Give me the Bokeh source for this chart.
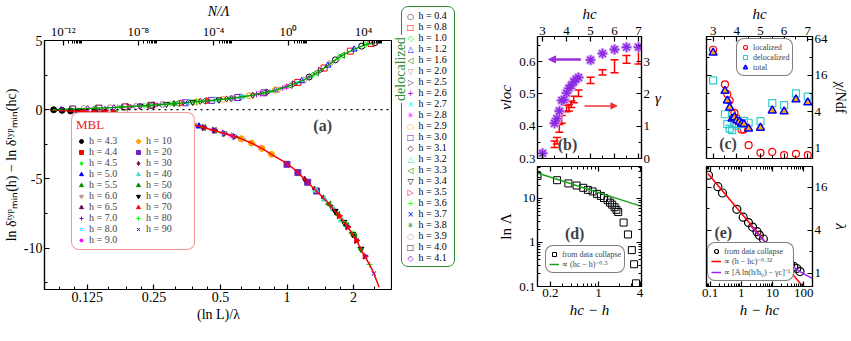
import math
from bokeh.plotting import figure
from bokeh.layouts import row, column
from bokeh.models import (Range1d, LogScale, LogAxis, LinearAxis, FixedTicker,
                          CustomJSTickFormatter, Legend, LegendItem, Label, Span,
                          Arrow, NormalHead, Whisker, TeeHead, ColumnDataSource, Div)
from bokeh.embed import file_html
from bokeh.resources import INLINE

# ======================= DATA =======================
# ---- panel (a): MBL side, x = (ln L)/lambda ----
mbl_labels = ["h = 4.3", "h = 4.4", "h = 4.5", "h = 5.0", "h = 5.5", "h = 6.0", "h = 6.5",
              "h = 7.0", "h = 8.0", "h = 9.0", "h = 10", "h = 20", "h = 30", "h = 40",
              "h = 50", "h = 60", "h = 70", "h = 80", "h = 90"]
mbl_x = [[0.088, 0.096, 0.105, 0.114], [0.12, 0.135, 0.15, 0.165], [0.17, 0.19, 0.21, 0.235],
         [0.25, 0.28, 0.31, 0.35, 0.40], [0.33, 0.37, 0.42, 0.47], [0.38, 0.42, 0.47, 0.52],
         [0.42, 0.47, 0.52, 0.58], [0.46, 0.51, 0.57, 0.63], [0.52, 0.58, 0.64, 0.71],
         [0.56, 0.62, 0.69, 0.76], [0.62, 0.69, 0.77, 0.85], [1.0, 1.12, 1.24, 1.36],
         [1.20, 1.33, 1.46, 1.60], [1.35, 1.48, 1.62, 1.76], [1.55, 1.70, 1.86, 2.03],
         [1.65, 1.81, 1.98, 2.16], [1.72, 1.88, 2.06, 2.25], [1.80, 1.97, 2.16, 2.36],
         [1.88, 2.06, 2.26, 2.47]]
mbl_y = [[-0.01, -0.05, -0.09, -0.12], [-0.15, -0.19, -0.23, -0.28], [-0.29, -0.35, -0.41, -0.5],
         [-0.56, -0.68, -0.81, -0.98, -1.2], [-0.9, -1.07, -1.29, -1.5], [-1.11, -1.29, -1.5, -1.72],
         [-1.29, -1.5, -1.72, -1.95], [-1.47, -1.68, -1.91, -2.14], [-1.72, -1.95, -2.19, -2.51],
         [-1.87, -2.10, -2.41, -2.75], [-2.10, -2.41, -2.80, -3.23], [-3.95, -4.55, -5.25, -5.88],
         [-5.02, -5.74, -6.38, -7.08], [-5.83, -6.48, -7.18, -7.98], [-6.83, -7.58, -8.38, -9.17],
         [-7.33, -8.13, -8.99, -10.07], [-7.68, -8.48, -9.46, -10.59], [-8.08, -8.94, -10.07, -11.19],
         [-8.48, -9.46, -10.64, -11.85]]
mbl_curve_x = [0.085, 0.1, 0.1166, 0.14, 0.165, 0.2, 0.234, 0.28, 0.33, 0.4, 0.468, 0.54, 0.618,
               0.698, 0.78, 0.86, 0.96, 1.06, 1.18, 1.3, 1.4, 1.5, 1.6, 1.72, 1.85, 1.98, 2.1,
               2.2, 2.32, 2.44, 2.52, 2.61]
mbl_curve_y = [0.0, -0.07, -0.13, -0.2, -0.28, -0.38, -0.5, -0.68, -0.9, -1.2, -1.5, -1.8, -2.09,
               -2.45, -2.85, -3.29, -3.72, -4.2, -4.9, -5.59, -6.08, -6.58, -7.08, -7.68, -8.33,
               -8.99, -9.7, -10.31, -10.98, -11.63, -12.2, -12.83]

# ---- panel (a): delocalized side, x = N/Lambda (top axis), stored as log10 ----
deloc_labels = ["h = 0.4", "h = 0.8", "h = 1.0", "h = 1.2", "h = 1.6", "h = 2.0", "h = 2.5",
                "h = 2.6", "h = 2.7", "h = 2.8", "h = 2.9", "h = 3.0", "h = 3.1", "h = 3.2",
                "h = 3.3", "h = 3.4", "h = 3.5", "h = 3.6", "h = 3.7", "h = 3.8", "h = 3.9",
                "h = 4.0", "h = 4.1"]
deloc_log10x = [[1.1, 2.5, 3.9, 4.6], [0.5, 1.9, 3.3, 4.4], [-0.1, 1.3, 2.7, 4.1],
                [-0.7, 0.7, 2.1, 3.5], [-1.3, 0.1, 1.5, 2.9], [-1.9, -0.5, 0.9, 2.3],
                [-2.5, -1.1, 0.3, 1.7], [-3.1, -1.7, -0.3, 1.1], [-3.7, -2.3, -0.9, 0.5],
                [-4.3, -2.9, -1.5, -0.1], [-4.9, -3.5, -2.1, -0.7], [-5.5, -4.1, -2.7, -1.3],
                [-6.1, -4.7, -3.3, -1.9], [-6.7, -5.3, -3.9, -2.5], [-7.3, -5.9, -4.5, -3.1],
                [-7.9, -6.5, -5.1, -3.7], [-8.5, -7.1, -5.7, -4.3], [-9.1, -7.7, -6.3, -4.9],
                [-9.7, -8.3, -6.9, -5.5], [-10.3, -8.9, -7.5, -6.1], [-10.9, -9.5, -8.1, -6.7],
                [-11.5, -10.1, -8.7, -7.3], [-12.1, -10.7, -9.3, -7.9]]
deloc_y = [[2.36, 3.60, 4.59, 4.84], [1.97, 3.01, 4.23, 4.78], [1.66, 2.50, 3.80, 4.70],
           [1.41, 2.07, 3.20, 4.36], [1.22, 1.75, 2.67, 3.94], [1.05, 1.49, 2.21, 3.40],
           [0.92, 1.28, 1.86, 2.84], [0.81, 1.11, 1.57, 2.36], [0.72, 0.97, 1.34, 1.97],
           [0.65, 0.84, 1.16, 1.66], [0.57, 0.75, 1.01, 1.41], [0.50, 0.67, 0.88, 1.22],
           [0.44, 0.60, 0.78, 1.05], [0.38, 0.53, 0.69, 0.92], [0.32, 0.46, 0.62, 0.81],
           [0.27, 0.40, 0.55, 0.72], [0.22, 0.34, 0.48, 0.65], [0.17, 0.28, 0.42, 0.57],
           [0.13, 0.23, 0.36, 0.50], [0.10, 0.18, 0.30, 0.44], [0.075, 0.14, 0.25, 0.38],
           [0.048, 0.11, 0.20, 0.32], [0.022, 0.084, 0.15, 0.27]]
deloc_curve_log10x = [-12.6, -11, -9.3, -7.5, -5.7, -4.0, -3.0, -1.9, -0.85, 0.0, 0.75, 1.3,
                      2.0, 2.7, 3.4, 4.1, 4.64]
deloc_curve_y = [0.0, 0.07, 0.15, 0.3, 0.48, 0.68, 0.82, 1.05, 1.35, 1.7, 2.1, 2.5, 3.1, 3.8,
                 4.3, 4.7, 4.85]

# ---- panel (b) ----
b_hc_nu = [3.0, 3.5, 3.6, 3.7, 3.8, 3.9, 4.0, 4.1, 4.2, 4.3, 4.4, 4.5, 5.0, 5.5, 6.0, 6.5, 7.0]
b_nu = [0.316, 0.409, 0.423, 0.447, 0.480, 0.482, 0.503, 0.518, 0.526, 0.538, 0.546, 0.551,
        0.605, 0.625, 0.638, 0.645, 0.645]
b_hc_gamma = [3.5, 3.6, 3.7, 3.8, 4.0, 4.1, 4.2, 4.3, 4.5, 5.0, 5.5, 6.0, 6.5, 7.0]
b_gamma = [0.44, 0.55, 0.93, 1.21, 1.55, 1.57, 1.68, 1.83, 2.02, 2.42, 2.67, 2.86, 3.07, 3.23]
b_gamma_err = [0.1, 0.1, 0.12, 0.12, 0.1, 0.1, 0.1, 0.1, 0.1, 0.1, 0.08, 0.2, 0.12, 0.3]

# ---- panel (c) ----
c_hc = [3.0, 3.5, 3.6, 3.7, 3.8, 3.9, 4.0, 4.1, 4.2, 4.3, 4.5, 5.0, 5.5, 6.0, 6.5, 7.0]
c_localized = [42.7, 11.3, 7.8, 6.1, 3.7, 3.8, 3.1, 2.7, 2.0, 2.0, 1.1, 0.82, 0.85, 0.75, 0.79, 0.75]
c_delocalized = [13.2, 3.6, 2.46, 2.07, 1.96, 2.46, 2.3, 2.5, 2.5, 2.8, 2.6, 2.77, 5.5, 5.1, 8.0, 7.1]
c_total = [38.0, 8.8, 6.06, 4.65, 3.03, 3.2, 2.83, 2.7, 2.5, 2.46, 2.07, 2.14, 4.14, 4.0, 6.35, 5.66]

# ---- panel (d) ----
d_x = [0.13, 0.25, 0.365, 0.48, 0.6, 0.7, 0.82, 0.95, 1.08, 1.2, 1.35, 1.47, 1.58, 1.71, 1.82,
       1.93, 2.31, 2.67, 3.04, 3.28, 3.5]
d_lnLambda = [32.3, 25.9, 21.9, 19.6, 17.4, 15.6, 14.4, 12.7, 11.4, 10.2, 9.1, 8.0, 7.2, 6.3,
              5.5, 4.9, 2.83, 1.52, 0.67, 0.32, 0.118]
d_fit_x = [0.13, 4.2]
d_fit_y = [37.7, 6.6]

# ---- panel (e) ----
e_x = [0.089, 0.178, 0.25, 0.72, 1.15, 1.7, 2.3, 3.2, 3.8, 5.1, 12.9, 22, 29.6, 38, 48, 60, 76]
e_lambda = [23.4, 16.2, 13.2, 7.8, 6.06, 5.1, 4.4, 3.8, 3.4, 3.0, 1.78, 1.5, 1.4, 1.3, 1.24,
            1.16, 1.05]
e_pow_x = [0.085, 100]
e_pow_y = [24.8, 0.63]
e_log_x = [2.0, 3.0, 5.0, 10, 20, 40, 80, 180]
e_log_y = [4.6, 3.7, 2.9, 2.05, 1.6, 1.28, 1.03, 0.85]

# ======================= STYLE =======================
FONT = "Liberation Serif"
BLACK, RED, GREEN, BLUE = "#000000", "#ff0000", "#00ff00", "#0000ff"
GREEN4, BROWN, MAROON, VIOLET = "#008b00", "#bc8f8f", "#670748", "#9400d3"
CYAN, MAGENTA, ORANGE, INDIGO, TURQ = "#00ffff", "#ff00ff", "#ffa500", "#7221bc", "#40e0d0"
COLORS = [BLACK, RED, GREEN, BLUE, GREEN4, BROWN, MAROON, VIOLET, CYAN, MAGENTA, ORANGE,
          INDIGO, MAROON, TURQ, GREEN4, BLACK, RED, GREEN, BLUE, GREEN4, BROWN, MAROON, VIOLET]
MARKERS = [("circle", 0), ("square", 0), ("diamond", 0), ("triangle", 0),
           ("triangle", math.pi / 2), ("inverted_triangle", 0), ("triangle", -math.pi / 2),
           ("cross", 0), ("x", 0), ("asterisk", 0)]
KEY_SYMBOLS = ["○", "□", "◇", "△", "◁", "▽", "▷", "+", "×", "✳"]
LINE_MARKERS = {"cross", "x", "asterisk"}
DGREEN = "#2e8b2e"

NUM = CustomJSTickFormatter(code="return String(parseFloat(tick.toPrecision(6)));")
HIDE = CustomJSTickFormatter(code="return '';")
POW = CustomJSTickFormatter(code="""
const sup = {'-':'\u207b','0':'\u2070','1':'\u00b9','2':'\u00b2','3':'\u00b3','4':'\u2074',
             '5':'\u2075','6':'\u2076','7':'\u2077','8':'\u2078','9':'\u2079'};
const e = Math.round(Math.log10(tick));
return '10' + String(e).split('').map(c => sup[c]).join('');
""")


def style_axis(ax, label_size="13px", axis_label_size="15px", italic=True):
    ax.major_label_text_font = FONT
    ax.major_label_text_font_size = label_size
    ax.major_label_text_color = "black"
    ax.axis_label_text_font = FONT
    ax.axis_label_text_font_size = axis_label_size
    ax.axis_label_text_font_style = "italic" if italic else "normal"
    ax.axis_label_text_color = "black"
    ax.major_tick_in = 5
    ax.major_tick_out = 0
    ax.minor_tick_in = 3
    ax.minor_tick_out = 0
    ax.axis_line_width = 1.2
    ax.major_tick_line_width = 1.2
    ax.minor_tick_line_width = 1
    ax.major_label_standoff = 2
    ax.axis_label_standoff = 2


def hide_axis(ax):
    style_axis(ax)
    ax.formatter = HIDE
    ax.major_label_text_font_size = "0px"
    ax.major_label_standoff = 0
    ax.axis_label = None


def style_fig(p):
    p.xgrid.visible = False
    p.ygrid.visible = False
    p.outline_line_color = "black"
    p.outline_line_width = 1.2
    p.background_fill_color = "white"
    p.border_fill_color = "white"


def style_legend(leg, border, size="10px", lh=9, gh=10):
    leg.border_line_color = border
    leg.border_line_width = 1.2
    leg.background_fill_color = "white"
    leg.background_fill_alpha = 1.0
    leg.label_text_font = FONT
    leg.label_text_font_size = size
    leg.margin = 0
    leg.padding = 4
    leg.spacing = 0
    leg.label_standoff = 3
    leg.glyph_width = gh
    leg.glyph_height = gh
    leg.label_height = lh
    try:
        leg.border_radius = 8
    except Exception:
        pass


def marker_kw(i, color, filled):
    mk, ang = MARKERS[i % 10]
    kw = dict(marker=mk, angle=ang, line_color=color, line_width=1)
    if mk in LINE_MARKERS:
        kw["fill_color"] = None
    else:
        kw["fill_color"] = color if filled else None
    return kw

# ======================= PANEL (a) =======================
pA = figure(frame_width=348, frame_height=249, x_axis_type="log", x_range=Range1d(0.08, 3.0),
            y_range=Range1d(-13, 5), output_backend="svg", toolbar_location=None,
            min_border_left=44, min_border_right=0, min_border_top=36, min_border_bottom=40)
style_fig(pA)
bx = pA.below[0]
style_axis(bx, label_size="14px", italic=False, axis_label_size="14px")
bx.ticker = FixedTicker(ticks=[0.125, 0.25, 0.5, 1, 2],
                        minor_ticks=[b * f for b in [0.0625, 0.125, 0.25, 0.5, 1, 2]
                                     for f in (1.25, 1.5, 1.75)])
bx.formatter = NUM
bx.axis_label = "(ln L)/λ"
ly = pA.left[0]
style_axis(ly, label_size="14px", italic=False, axis_label_size="14px")
ly.ticker = FixedTicker(ticks=[-10, -5, 0, 5], minor_ticks=[-12.5, -7.5, -2.5, 2.5])
ly.formatter = NUM
ly.axis_label = "ln δᵗʸᵖₘᵢₙ(h) − ln δᵗʸᵖₘᵢₙ(hc)"

pA.extra_x_ranges = {"top": Range1d(1e-13, 3.5e5)}
pA.extra_x_scales = {"top": LogScale()}
tx = LogAxis(x_range_name="top")
style_axis(tx, axis_label_size="14px")
tx.ticker = FixedTicker(ticks=[1e-12, 1e-8, 1e-4, 1, 1e4],
                        minor_ticks=[k * 10.0 ** e for e in (-12, -8, -4, 0, 4) for k in range(2, 10)])
tx.formatter = POW
tx.axis_label = "N/Λ"
pA.add_layout(tx, "above")

pA.add_layout(Span(location=0, dimension="width", line_dash="dotted", line_color="black",
                   line_width=1.2))

mbl_r = []
for i in range(len(mbl_labels)):
    r = pA.scatter(mbl_x[i], mbl_y[i], size=6, **marker_kw(i, COLORS[i], True))
    mbl_r.append(r)
for i in range(len(deloc_labels)):
    pA.scatter([10 ** v for v in deloc_log10x[i]], deloc_y[i], x_range_name="top", size=6,
               **marker_kw(i, COLORS[i], False))
pA.line(mbl_curve_x, mbl_curve_y, line_color=RED, line_width=1.5)
pA.line([10 ** v for v in deloc_curve_log10x], deloc_curve_y, x_range_name="top",
        line_color="#00a000", line_width=1.5)

leg_mbl = Legend(items=[LegendItem(label=mbl_labels[i], renderers=[mbl_r[i]])
                        for i in range(len(mbl_labels))],
                 ncols=2, location=(27, 39), title="MBL")
style_legend(leg_mbl, "#ee3333", size="10px", lh=8, gh=10)
leg_mbl.label_width = 44
leg_mbl.title_text_color = "#ee2222"
leg_mbl.title_text_font = FONT
leg_mbl.title_text_font_size = "13px"
leg_mbl.title_text_font_style = "normal"
leg_mbl.title_standoff = 2
pA.add_layout(leg_mbl)
pA.add_layout(Label(x=1.45, y=-1.12, text="(a)", text_font=FONT, text_font_style="bold",
                    text_font_size="16px", text_align="center", text_baseline="middle"))

# ---- key of the delocalized series (HTML box beside panel a) ----
rows_html = "".join(
    '<div style="height:11px;line-height:11px;white-space:nowrap;font-size:10px;">'
    '<span style="display:inline-block;width:11px;text-align:center;font-family:\'DejaVu Sans\';'
    'font-size:8px;color:%s;">%s</span> %s</div>'
    % (COLORS[i], KEY_SYMBOLS[i % 10], deloc_labels[i])
    for i in range(len(deloc_labels)))
key_html = (
    '<div style="position:relative;width:62px;height:325px;font-family:\'Liberation Serif\';color:black;">'
    '<div style="position:absolute;left:4px;top:1px;width:54px;height:261px;box-sizing:border-box;'
    'border:1.3px solid %s;border-radius:7px;padding:3px 0 0 3px;background:white;">%s</div>'
    '<div style="position:absolute;left:4px;top:64px;transform:translate(-50%%,-50%%) rotate(-90deg);'
    'background:white;color:%s;font-size:14px;line-height:14px;padding:0 2px;white-space:nowrap;">'
    'delocalized</div></div>' % (DGREEN, rows_html, DGREEN))
key_div = Div(text=key_html, width=62, height=325)

# ======================= PANEL (b) =======================
pB = figure(frame_width=104, frame_height=122, x_range=Range1d(2.79, 7.125),
            y_range=Range1d(0.3, 0.678), x_axis_location="above", output_backend="svg",
            toolbar_location=None,
            min_border_left=73, min_border_right=39, min_border_top=36, min_border_bottom=7)
style_fig(pB)
ax = pB.above[0]
style_axis(ax)
ax.ticker = FixedTicker(ticks=[3, 4, 5, 6, 7], minor_ticks=[3.5, 4.5, 5.5, 6.5])
ax.formatter = NUM
ax.axis_label = "hc"
ay = pB.left[0]
style_axis(ay)
ay.ticker = FixedTicker(ticks=[0.3, 0.4, 0.5, 0.6], minor_ticks=[0.35, 0.45, 0.55, 0.65])
ay.formatter = NUM
ay.axis_label = "νloc"
pB.extra_y_ranges = {"gamma": Range1d(0, 3.78)}
gax = LinearAxis(y_range_name="gamma")
style_axis(gax)
gax.ticker = FixedTicker(ticks=[0, 1, 2, 3], minor_ticks=[0.5, 1.5, 2.5, 3.5])
gax.formatter = NUM
gax.axis_label = "γ"
gax.axis_label_orientation = "horizontal"
pB.add_layout(gax, "right")
bb = LinearAxis()
hide_axis(bb)
bb.ticker = FixedTicker(ticks=[3, 4, 5, 6, 7], minor_ticks=[3.5, 4.5, 5.5, 6.5])
pB.add_layout(bb, "below")

src_g = ColumnDataSource(data=dict(h=b_hc_gamma,
                                   up=[g + e for g, e in zip(b_gamma, b_gamma_err)],
                                   lo=[g - e for g, e in zip(b_gamma, b_gamma_err)]))
pB.add_layout(Whisker(source=src_g, base="h", upper="up", lower="lo", dimension="height",
                      y_range_name="gamma", line_color=RED, line_width=1.5,
                      upper_head=TeeHead(size=8, line_color=RED, line_width=1.5),
                      lower_head=TeeHead(size=8, line_color=RED, line_width=1.5)))
pB.scatter(b_hc_nu, b_nu, marker="asterisk", size=11, line_color="#d9a6f2", line_width=3)
pB.scatter(b_hc_nu, b_nu, marker="asterisk", size=9, line_color="#8a2be2", line_width=1.5)
PURP = "#9b30d9"
pB.add_layout(Arrow(end=NormalHead(size=7, fill_color=PURP, line_color=PURP),
                    x_start=4.6, y_start=0.607, x_end=3.25, y_end=0.607,
                    line_color=PURP, line_width=2.5))
pB.add_layout(Arrow(end=NormalHead(size=6, fill_color="#ee3333", line_color="#ee3333"),
                    x_start=4.75, y_start=0.463, x_end=6.1, y_end=0.463,
                    line_color="#ee3333", line_width=1.5))
pB.add_layout(Label(x=4.04, y=0.343, text="(b)", text_font=FONT, text_font_style="bold",
                    text_font_size="16px", text_align="center", text_baseline="middle"))

# ======================= PANEL (d) =======================
pD = figure(frame_width=104, frame_height=120, x_axis_type="log", y_axis_type="log",
            x_range=Range1d(0.13, 4.2), y_range=Range1d(0.1, 53),
            output_backend="svg", toolbar_location=None,
            min_border_left=73, min_border_right=39, min_border_top=1, min_border_bottom=39)
style_fig(pD)
d_minor_x = [0.3, 0.4, 0.5, 0.6, 0.7, 0.8, 0.9, 2, 3]
d_minor_y = [k * 10.0 ** e for e in (-1, 0, 1) for k in range(2, 10)]
ax = pD.below[0]
style_axis(ax)
ax.ticker = FixedTicker(ticks=[0.2, 1, 4], minor_ticks=d_minor_x)
ax.formatter = NUM
ax.axis_label = "hc − h"
ay = pD.left[0]
style_axis(ay)
ay.ticker = FixedTicker(ticks=[0.1, 1, 10], minor_ticks=d_minor_y)
ay.formatter = NUM
ay.axis_label = "ln Λ"
ay.axis_label_text_font_style = "normal"
t = LogAxis()
hide_axis(t)
t.ticker = FixedTicker(ticks=[0.2, 1, 4], minor_ticks=d_minor_x)
pD.add_layout(t, "above")
rr = LogAxis()
hide_axis(rr)
rr.ticker = FixedTicker(ticks=[0.1, 1, 10], minor_ticks=d_minor_y)
pD.add_layout(rr, "right")

rd = pD.scatter(d_x, d_lnLambda, marker="square", size=7, line_color="black", fill_color=None,
                line_width=1)
rdl = pD.line(d_fit_x, d_fit_y, line_color="#1aa01a", line_width=1.5)
leg_d = Legend(items=[LegendItem(label="from data collapse", renderers=[rd]),
                      LegendItem(label="∝ (hc − h)⁻⁰·⁵", renderers=[rdl])],
               location=(8, 13))
style_legend(leg_d, "black", size="8px", lh=8, gh=10)
leg_d.padding = 3
pD.add_layout(leg_d)
pD.add_layout(Label(x=0.45, y=1.6, text="(d)", text_font=FONT, text_font_style="bold",
                    text_font_size="16px", text_align="center", text_baseline="middle"))

# ======================= PANEL (c) =======================
pC = figure(frame_width=106, frame_height=122, x_range=Range1d(2.72, 7.2), y_axis_type="log",
            y_range=Range1d(0.66, 71), x_axis_location="above", y_axis_location="right",
            output_backend="svg", toolbar_location=None,
            min_border_left=26, min_border_right=33, min_border_top=36, min_border_bottom=7)
style_fig(pC)
ax = pC.above[0]
style_axis(ax)
ax.ticker = FixedTicker(ticks=[3, 4, 5, 6, 7], minor_ticks=[3.5, 4.5, 5.5, 6.5])
ax.formatter = NUM
ax.axis_label = "hc"
ay = pC.right[0]
style_axis(ay, axis_label_size="14px")
ay.ticker = FixedTicker(ticks=[1, 4, 16, 64], minor_ticks=[2, 8, 32])
ay.formatter = NUM
ay.axis_label = "χ/Ndf"
ay.axis_label_text_font_style = "normal"
cb = LinearAxis()
hide_axis(cb)
cb.ticker = FixedTicker(ticks=[3, 4, 5, 6, 7], minor_ticks=[3.5, 4.5, 5.5, 6.5])
pC.add_layout(cb, "below")
cl = LogAxis()
hide_axis(cl)
cl.ticker = FixedTicker(ticks=[1, 4, 16, 64], minor_ticks=[2, 8, 32])
pC.add_layout(cl, "left")

rc1 = pC.scatter(c_hc, c_localized, marker="circle", size=7, line_color=RED, fill_color=None,
                 line_width=1.2)
rc2 = pC.scatter(c_hc, c_delocalized, marker="square", size=7, line_color="#33cccc",
                 fill_color=None, line_width=1.2)
rc3 = pC.scatter(c_hc, c_total, marker="triangle", size=8, line_color=BLUE, fill_color=ORANGE,
                 line_width=1.5)
leg_c = Legend(items=[LegendItem(label="localized", renderers=[rc1]),
                      LegendItem(label="delocalized", renderers=[rc2]),
                      LegendItem(label="total", renderers=[rc3])],
               location=(30, 82))
style_legend(leg_c, "black", size="8px", lh=8, gh=10)
leg_c.padding = 3
pC.add_layout(leg_c)
pC.add_layout(Label(x=3.63, y=1.16, text="(c)", text_font=FONT, text_font_style="bold",
                    text_font_size="16px", text_align="center", text_baseline="middle"))

# ======================= PANEL (e) =======================
pE = figure(frame_width=106, frame_height=120, x_axis_type="log", y_axis_type="log",
            x_range=Range1d(0.077, 191), y_range=Range1d(0.65, 31), y_axis_location="right",
            output_backend="svg", toolbar_location=None,
            min_border_left=26, min_border_right=33, min_border_top=1, min_border_bottom=39)
style_fig(pE)
e_minor_x = [k * 10.0 ** e for e in (-2, -1, 0, 1, 2) for k in range(2, 10)]
ax = pE.below[0]
style_axis(ax)
ax.ticker = FixedTicker(ticks=[0.1, 1, 10, 100], minor_ticks=e_minor_x)
ax.formatter = NUM
ax.axis_label = "h − hc"
ay = pE.right[0]
style_axis(ay)
ay.ticker = FixedTicker(ticks=[1, 4, 16], minor_ticks=[2, 8])
ay.formatter = NUM
ay.axis_label = "λ"
et = LogAxis()
hide_axis(et)
et.ticker = FixedTicker(ticks=[0.1, 1, 10, 100], minor_ticks=e_minor_x)
pE.add_layout(et, "above")
el = LogAxis()
hide_axis(el)
el.ticker = FixedTicker(ticks=[1, 4, 16], minor_ticks=[2, 8])
pE.add_layout(el, "left")

re1 = pE.scatter(e_x, e_lambda, marker="circle", size=8, line_color="black", fill_color=None,
                 line_width=1.2)
re2 = pE.line(e_pow_x, e_pow_y, line_color=RED, line_width=1.5)
re3 = pE.line(e_log_x, e_log_y, line_color="#a020f0", line_width=1.5)
leg_e = Legend(items=[LegendItem(label="from data collapse", renderers=[re1]),
                      LegendItem(label="∝ (h − hc)⁻⁰·⁵²", renderers=[re2]),
                      LegendItem(label="∝ [A ln(h/h₀) − γc]⁻¹", renderers=[re3])],
               location=(1, 5))
style_legend(leg_e, "black", size="8px", lh=8, gh=10)
leg_e.padding = 3
pE.add_layout(leg_e)
pE.add_layout(Label(x=0.266, y=3.7, text="(e)", text_font=FONT, text_font_style="bold",
                    text_font_size="16px", text_align="center", text_baseline="middle"))

layout = row(pA, key_div, column(pB, pD), column(pC, pE))
open("out.html", "w").write(file_html(layout, INLINE))
